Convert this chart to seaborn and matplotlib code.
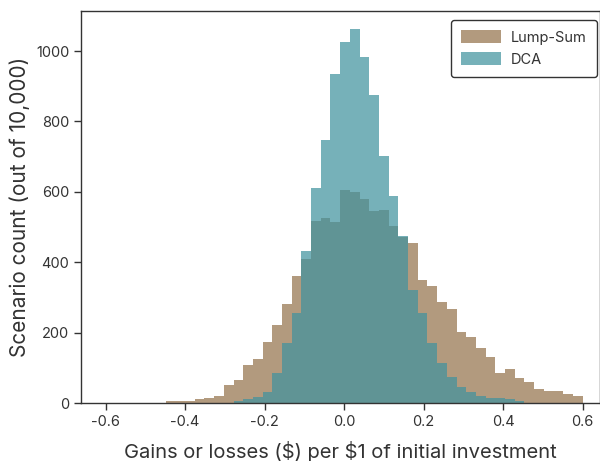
import numpy as np
import pandas as pd
import seaborn as sns
import matplotlib.pyplot as plt

# histogram bins shared by both strategies
bin_start = -0.449
bin_width = 0.0244
n_bins = 43

# scenario counts per bin (out of 10,000)
lump_sum = [5, 5, 5, 10, 14, 21, 50, 64, 108, 124,
            174, 222, 281, 360, 409, 517, 526, 515, 606, 600,
            581, 545, 548, 503, 471, 454, 349, 333, 286, 267,
            201, 187, 157, 130, 84, 97, 71, 59, 40, 34,
            34, 25, 19]
dca = [0, 0, 0, 0, 0, 0, 0, 5, 12, 18,
       30, 85, 170, 255, 431, 612, 747, 935, 1025, 1062,
       982, 874, 701, 589, 474, 321, 255, 170, 113, 75,
       46, 30, 19, 15, 15, 10, 6, 0, 0, 0,
       0, 0, 0]

x_ticks = [-0.6, -0.4, -0.2, 0.0, 0.2, 0.4, 0.6]
y_ticks = [0, 200, 400, 600, 800, 1000]

bin_range = (bin_start, bin_start + n_bins * bin_width)
centers = bin_start + bin_width * (np.arange(n_bins) + 0.5)
df = pd.DataFrame({'x': centers, 'Lump-Sum': lump_sum, 'DCA': dca})

sns.set_style('ticks')
plt.rcParams['font.family'] = ['Inter', 'DejaVu Sans']
plt.rcParams['axes.unicode_minus'] = False
text_color = '#333333'

fig = plt.figure(figsize=(6, 4.61), dpi=100)
ax = fig.add_axes([81 / 600, 1 - 403 / 461, 1 - 81 / 600, (403 - 11) / 461])

sns.histplot(data=df, x='x', weights='Lump-Sum', bins=n_bins, binrange=bin_range,
             color='#95734c', alpha=0.72, linewidth=0, label='Lump-Sum', ax=ax)
sns.histplot(data=df, x='x', weights='DCA', bins=n_bins, binrange=bin_range,
             color='#41939e', alpha=0.72, linewidth=0, label='DCA', ax=ax)

ax.set_xlim(-0.662, 0.644)
ax.set_ylim(0, 1114)
ax.set_xticks(x_ticks)
ax.set_xticklabels([f'{t:.1f}' for t in x_ticks])
ax.set_yticks(y_ticks)
ax.tick_params(colors=text_color, labelsize=10.5, length=5, width=1)
for s in ax.spines.values():
    s.set_color(text_color)
    s.set_linewidth(1)

ax.set_xlabel(r'Gains or losses (\$) per \$1 of initial investment', fontsize=14.5,
              color=text_color, labelpad=8.5)
ax.set_ylabel('Scenario count (out of 10,000)', fontsize=15, color=text_color,
              labelpad=4)

leg = ax.legend(loc='upper right', fontsize=10.5, frameon=True, fancybox=True,
                edgecolor=text_color, handlelength=2.7, handleheight=1.0,
                borderpad=0.7, labelspacing=0.5, handletextpad=0.7,
                borderaxespad=0, bbox_to_anchor=(0.994, 0.977))
leg.get_frame().set_linewidth(1)
leg.get_frame().set_alpha(1)
for t in leg.get_texts():
    t.set_color(text_color)

fig.savefig('out.png', dpi=100)
